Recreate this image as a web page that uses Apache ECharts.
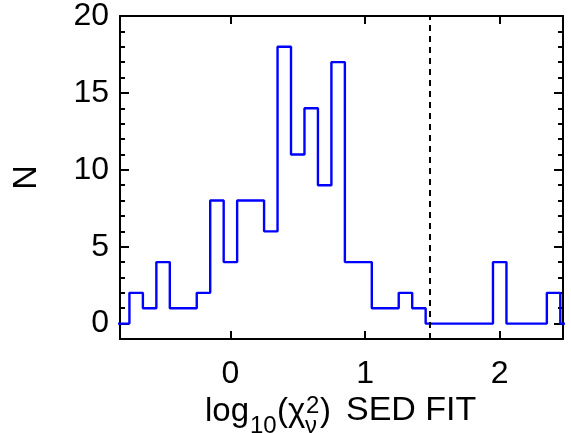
<!DOCTYPE html>
<html><head><meta charset="utf-8">
<script src="https://cdn.jsdelivr.net/npm/echarts@6/dist/echarts.min.js"></script>
<style>html,body{margin:0;padding:0;background:#fff}#c{width:571px;height:433px}</style>
</head><body><div id="c"></div>
<script>
// Histogram of log10(chi^2_nu) values; bins 0.1 wide, left edges below
const binLeftEdges = [-0.85,-0.75,-0.65,-0.55,-0.45,-0.35,-0.25,-0.15,-0.05,0.05,0.15,0.25,0.35,0.45,0.55,0.65,0.75,0.85,0.95,1.05,1.15,1.25,1.35,1.45,1.55,1.65,1.75,1.85,1.95,2.05,2.15,2.25,2.35,2.45];
const counts       = [0,2,1,4,1,1,2,8,4,8,8,6,18,11,14,9,17,4,4,1,1,2,1,0,0,0,0,0,4,0,0,0,2,0];
const binWidth = 0.1;
const cutValue = 1.477; // log10(30) dashed threshold
const xTicks = [0,1,2];
const yMajor = [0,5,10,15,20];
const yMinor = [0,1,2,3,4,5,6,7,8,9,10,11,12,13,14,15,16,17,18,19,20];

const stepData = binLeftEdges.map((e,i)=>[e,counts[i]]);
stepData.push([binLeftEdges[binLeftEdges.length-1]+binWidth, counts[counts.length-1]]);

const FONT = 'Liberation Sans, Arial, sans-serif';
const axisLine = {show:true, onZero:false, lineStyle:{color:'#000', width:2}};
function xAx(pos, labels){
  return {type:'value', position:pos, min:-0.82, max:2.47,
    axisLine, splitLine:{show:false},
    axisTick:{show:true, inside:true, length:8, customValues:xTicks, lineStyle:{color:'#000', width:2}},
    axisLabel:{show:labels, customValues:xTicks, fontFamily:FONT, fontSize:32, color:'#000', margin:19}};
}
function yAx(pos, major, labels){
  return {type:'value', position:pos, min:-1, max:20,
    axisLine: major ? axisLine : {show:false, onZero:false}, splitLine:{show:false},
    axisTick:{show:true, inside:true, length: major?9:5, customValues: major?yMajor:yMinor, lineStyle:{color:'#000', width:2}},
    axisLabel:{show:labels, customValues:yMajor, fontFamily:FONT, fontSize:32, color:'#000', margin:11},
    name: labels ? 'N' : '', nameLocation:'middle', nameGap:76, nameRotate:90,
    nameTextStyle:{fontFamily:FONT, fontSize:34, color:'#000'}};
}

const chart = echarts.init(document.getElementById('c'), null, {renderer:'canvas'});
const tf = {fontFamily:FONT, fill:'#000'};
function t(text, left, top, size){ return {type:'text', left, top, style:Object.assign({text, fontSize:size}, tf)}; }
chart.setOption({
  animation:false,
  backgroundColor:'#fff',
  grid:{left:120, right:8, top:12, bottom:94},
  xAxis:[xAx('bottom', true), xAx('top', false)],
  yAxis:[yAx('left', true, true), yAx('left', false, false), yAx('right', true, false), yAx('right', false, false)],
  series:[{
    type:'line', step:'end', data:stepData, xAxisIndex:0, yAxisIndex:0,
    symbol:'none', clip:true,
    lineStyle:{color:'#0000ff', width:2.4},
    markLine:{silent:true, symbol:['none','none'], label:{show:false},
      lineStyle:{color:'#000', type:[6,5], width:2},
      data:[{xAxis:cutValue}]}
  }],
  graphic:[
    t('log', 205, 395, 33),
    t('10', 250, 414, 24),
    t('(', 277, 395, 33),
    t('χ', 288, 395, 33),
    t('2', 306, 394, 24),
    t('ν', 305, 414, 24),
    t(')', 320, 395, 33),
    t('SED FIT', 346, 394, 34)
  ]
});
</script></body></html>
